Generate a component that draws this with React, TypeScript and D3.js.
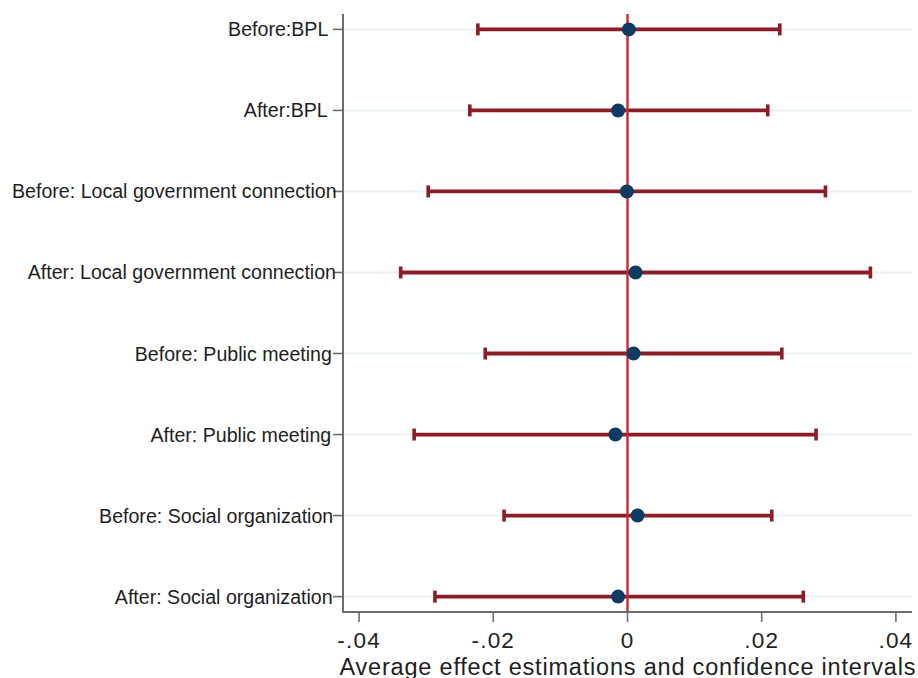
import React, { useEffect, useRef } from "react";
import * as d3 from "d3";

// Effect estimates with their confidence intervals, one row per group
const labels = [
  "Before:BPL",
  "After:BPL",
  "Before: Local government connection",
  "After: Local government connection",
  "Before: Public meeting",
  "After: Public meeting",
  "Before: Social organization",
  "After: Social organization",
];
const estimates = [0.0002, -0.0014, -0.0001, 0.0012, 0.0009, -0.0018, 0.0015, -0.0014];
const lowerBounds = [-0.0223, -0.0235, -0.0297, -0.0338, -0.0212, -0.0318, -0.0184, -0.0287];
const upperBounds = [0.0227, 0.0209, 0.0295, 0.0362, 0.0230, 0.0281, 0.0215, 0.0262];
const xTicks = [-0.04, -0.02, 0, 0.02, 0.04];
const xTitle = "Average effect estimations and confidence intervals";

const W = 918;
const H = 678;
const plot = { left: 343, right: 912, top: 14, bottom: 612 };

const ciColor = "#8c1c27";
const dotColor = "#0d3b63";
const zeroColor = "#cc2a30";
const axisColor = "#6d6d6d";
const gridColor = "#e9f1f3";
const textColor = "#1e1e1e";
const font = "'Liberation Sans', Arial, Helvetica, sans-serif";

// Stata-style tick labels: -.04, -.02, 0, .02, .04
const fmtTick = (v: number) =>
  v === 0 ? "0" : (v < 0 ? "-" : "") + String(Math.abs(v)).replace(/^0/, "");

export default function App() {
  const ref = useRef<SVGSVGElement | null>(null);

  useEffect(() => {
    const svg = d3.select(ref.current);
    svg.selectAll("*").remove();

    const x = d3.scaleLinear().domain([-0.0424, 0.0424]).range([plot.left, plot.right]);
    const y = d3
      .scalePoint<string>()
      .domain(labels)
      .range([plot.top, plot.bottom])
      .padding(0.19);

    const rows = labels.map((label, i) => ({
      label,
      est: estimates[i],
      lo: lowerBounds[i],
      hi: upperBounds[i],
    }));

    svg.append("rect").attr("width", W).attr("height", H).attr("fill", "#ffffff");

    // horizontal grid lines at each row
    svg
      .append("g")
      .selectAll("line")
      .data(labels)
      .join("line")
      .attr("x1", plot.left)
      .attr("x2", plot.right)
      .attr("y1", (d) => y(d)!)
      .attr("y2", (d) => y(d)!)
      .attr("stroke", gridColor)
      .attr("stroke-width", 2);

    // confidence interval bars with end caps
    const ci = svg.append("g");
    ci.selectAll("line.bar")
      .data(rows)
      .join("line")
      .attr("class", "bar")
      .attr("x1", (d) => x(d.lo))
      .attr("x2", (d) => x(d.hi))
      .attr("y1", (d) => y(d.label)!)
      .attr("y2", (d) => y(d.label)!)
      .attr("stroke", ciColor)
      .attr("stroke-width", 3.8);
    const capHalf = 6;
    ["lo", "hi"].forEach((k) => {
      ci.selectAll(`line.cap-${k}`)
        .data(rows)
        .join("line")
        .attr("class", `cap-${k}`)
        .attr("x1", (d: any) => x(d[k]))
        .attr("x2", (d: any) => x(d[k]))
        .attr("y1", (d) => y(d.label)! - capHalf)
        .attr("y2", (d) => y(d.label)! + capHalf)
        .attr("stroke", ciColor)
        .attr("stroke-width", 3.6);
    });

    // reference line at zero
    svg
      .append("line")
      .attr("x1", x(0))
      .attr("x2", x(0))
      .attr("y1", plot.top)
      .attr("y2", plot.bottom)
      .attr("stroke", zeroColor)
      .attr("stroke-width", 2.4);

    // point estimates
    svg
      .append("g")
      .selectAll("circle")
      .data(rows)
      .join("circle")
      .attr("cx", (d) => x(d.est))
      .attr("cy", (d) => y(d.label)!)
      .attr("r", 7)
      .attr("fill", dotColor);

    // y axis
    svg
      .append("line")
      .attr("x1", plot.left)
      .attr("x2", plot.left)
      .attr("y1", plot.top)
      .attr("y2", plot.bottom + 1)
      .attr("stroke", axisColor)
      .attr("stroke-width", 2);
    svg
      .append("g")
      .selectAll("line")
      .data(labels)
      .join("line")
      .attr("x1", plot.left - 10)
      .attr("x2", plot.left)
      .attr("y1", (d) => y(d)!)
      .attr("y2", (d) => y(d)!)
      .attr("stroke", axisColor)
      .attr("stroke-width", 1.6);
    const yLabels = svg
      .append("g")
      .selectAll("text")
      .data(labels)
      .join("text")
      .attr("y", (d) => y(d)! + 7)
      .attr("font-family", font)
      .attr("font-size", 19.6)
      .attr("fill", textColor)
      .text((d) => d);
    // labels are placed from their measured width; longer ones reach closer to the axis
    yLabels.each(function () {
      const t = this as SVGTextElement;
      const w = t.getComputedTextLength();
      t.setAttribute("x", String(324.6 - 0.963 * w));
    });

    // x axis
    svg
      .append("line")
      .attr("x1", plot.left - 1)
      .attr("x2", plot.right)
      .attr("y1", plot.bottom)
      .attr("y2", plot.bottom)
      .attr("stroke", axisColor)
      .attr("stroke-width", 2);
    const xt = svg.append("g");
    xt.selectAll("line")
      .data(xTicks)
      .join("line")
      .attr("x1", (d) => x(d))
      .attr("x2", (d) => x(d))
      .attr("y1", plot.bottom)
      .attr("y2", plot.bottom + 10)
      .attr("stroke", axisColor)
      .attr("stroke-width", 1.6);
    xt.selectAll("text")
      .data(xTicks)
      .join("text")
      .attr("x", (d) => x(d))
      .attr("y", 648)
      .attr("text-anchor", "middle")
      .attr("font-family", font)
      .attr("font-size", 22.5)
      .attr("letter-spacing", 1.2)
      .attr("fill", textColor)
      .text((d) => fmtTick(d));

    svg
      .append("text")
      .attr("x", (plot.left + plot.right) / 2)
      .attr("y", 674.5)
      .attr("text-anchor", "middle")
      .attr("font-family", font)
      .attr("font-size", 23.5)
      .attr("textLength", 576)
      .attr("lengthAdjust", "spacing")
      .attr("fill", textColor)
      .text(xTitle);
  }, []);

  return (
    <svg
      ref={ref}
      width={W}
      height={H}
      style={{ position: "absolute", left: 0, top: 0, display: "block" }}
    />
  );
}
